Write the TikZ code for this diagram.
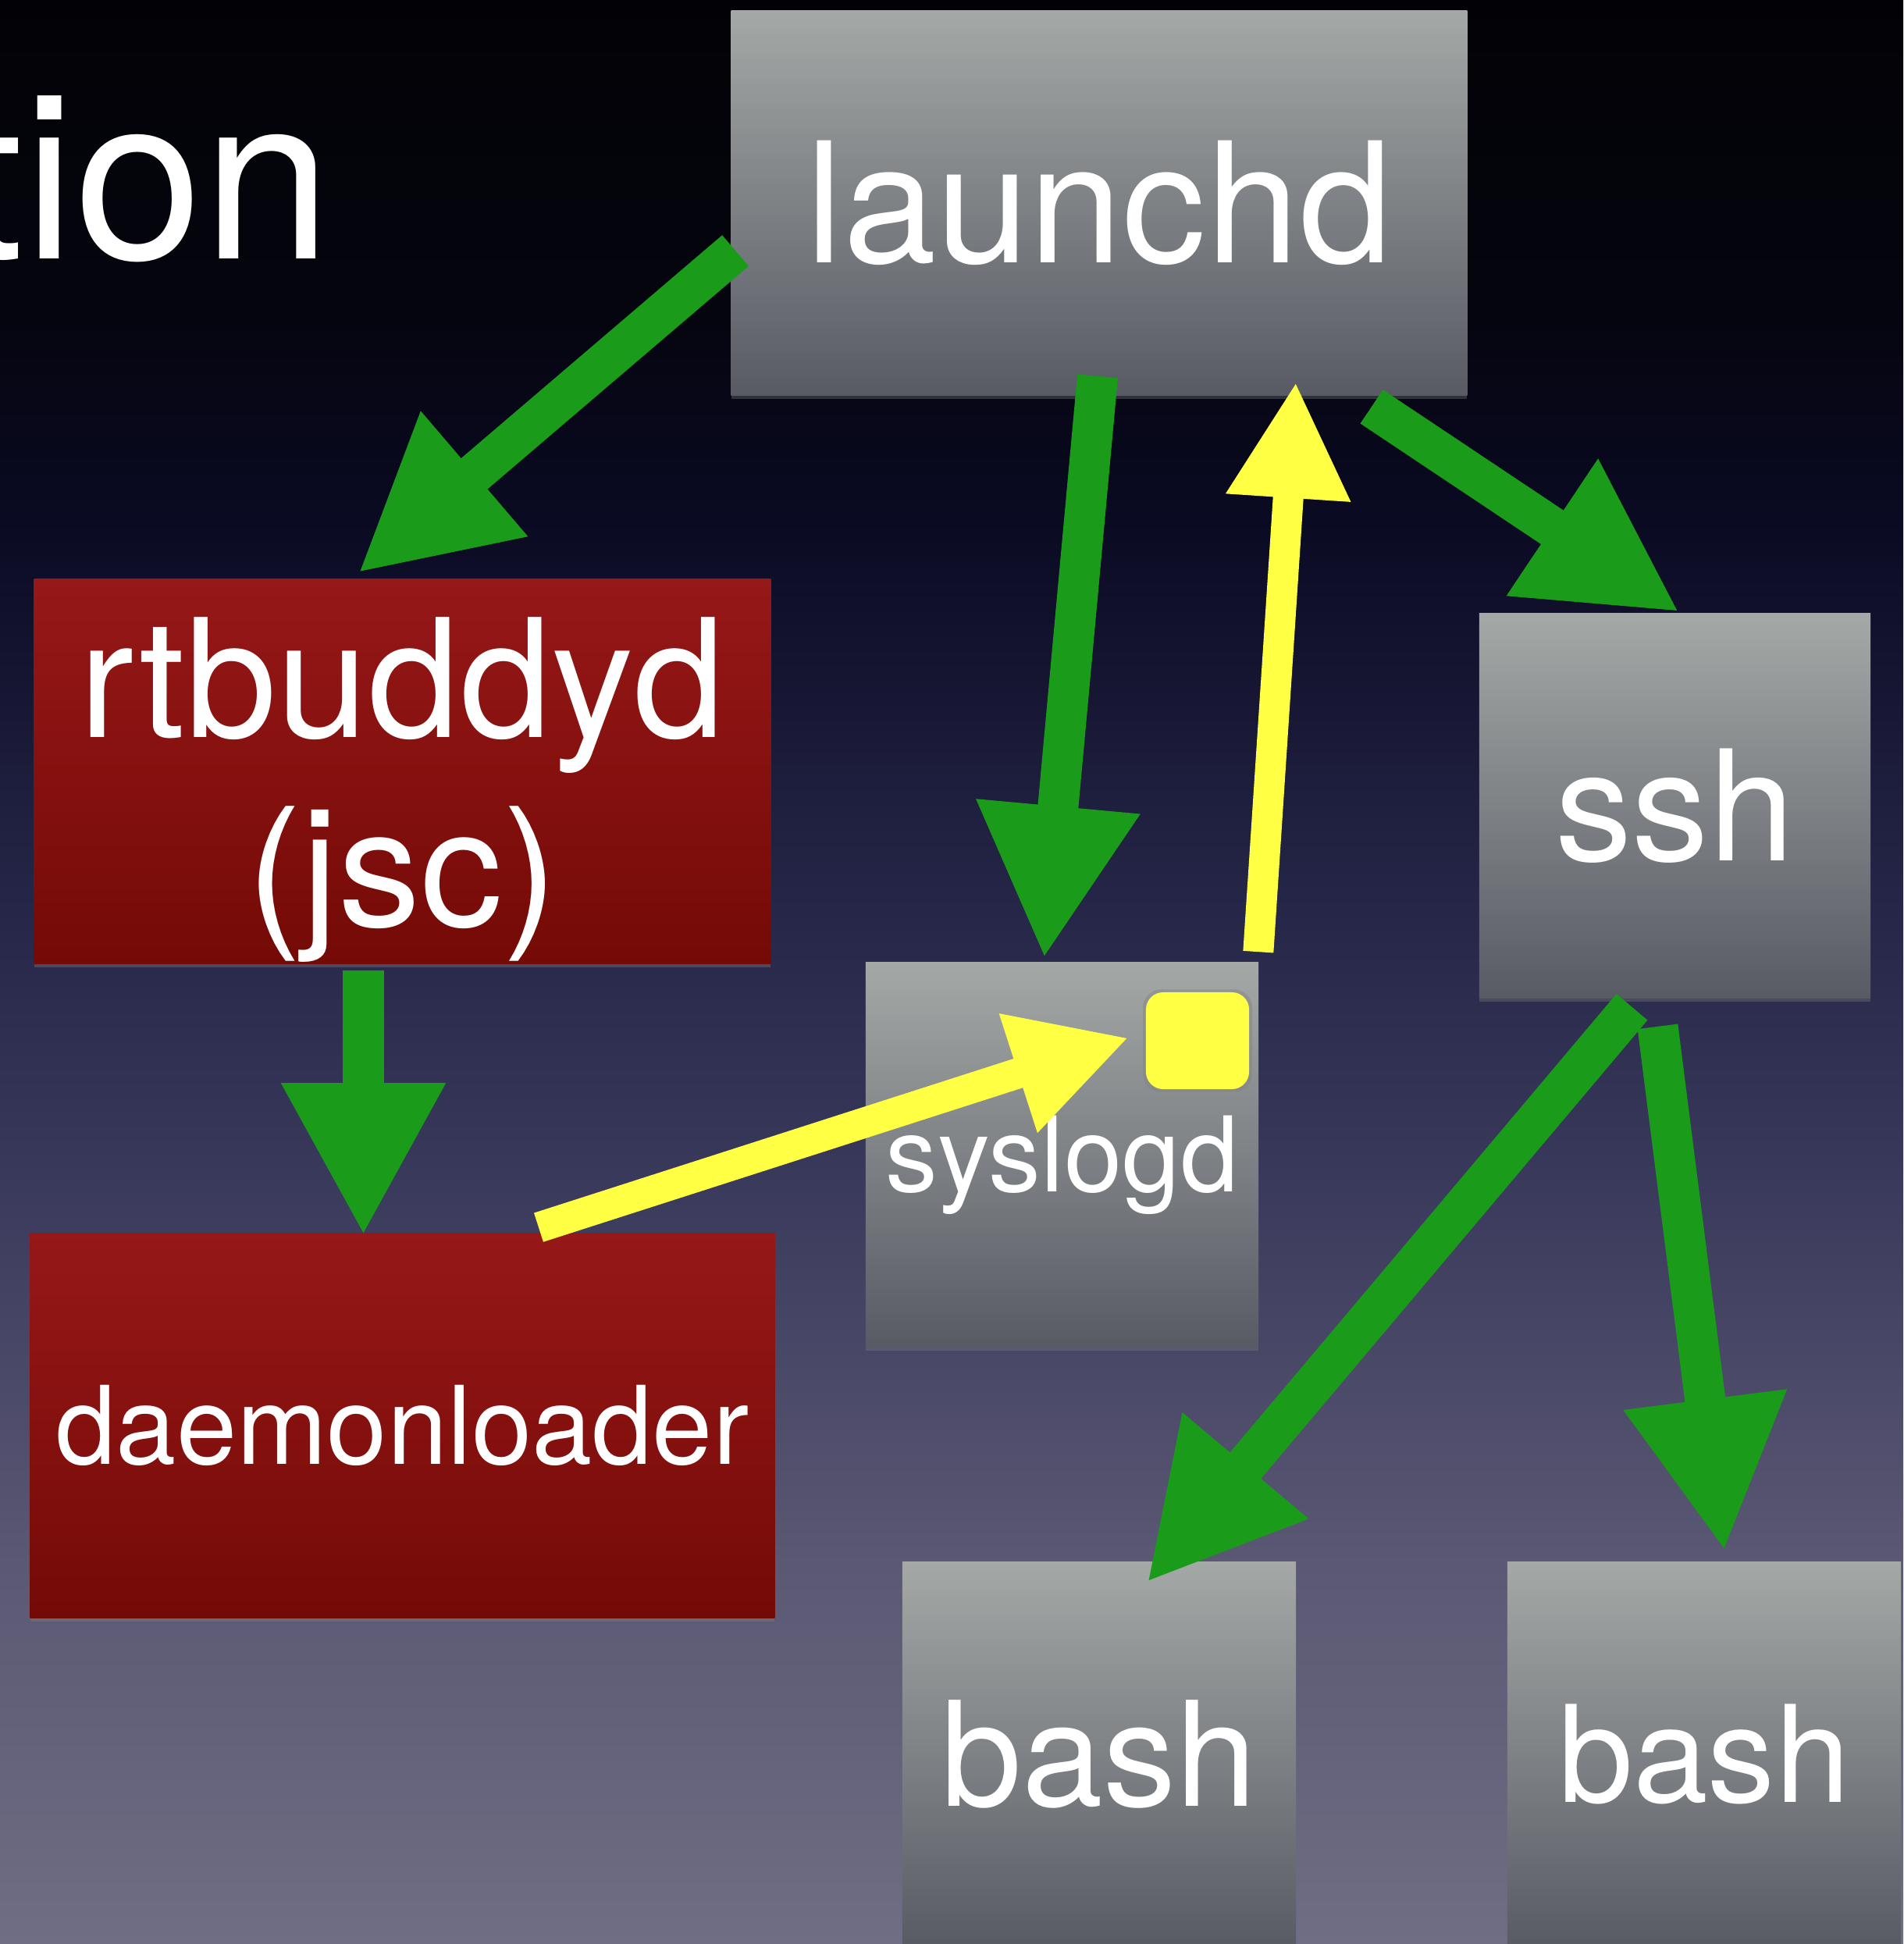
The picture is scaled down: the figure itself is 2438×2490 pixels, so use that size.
\documentclass[tikz,border=0pt]{standalone}
\usepackage{fontspec}
\setmainfont{TeX Gyre Heros}
\usetikzlibrary{arrows.meta,calc,shadows}

\definecolor{procgraytop}{RGB}{164,168,166}
\definecolor{procgraybot}{RGB}{88,91,100}
\definecolor{procredtop}{RGB}{150,24,24}
\definecolor{procredbot}{RGB}{116,10,6}
\definecolor{spawngreen}{RGB}{26,156,26}
\definecolor{logyellow}{RGB}{255,255,68}
\definecolor{bgA}{RGB}{112,110,132}
\definecolor{bgB}{RGB}{90,88,115}
\definecolor{bgC}{RGB}{55,55,90}
\definecolor{bgD}{RGB}{40,40,75}
\definecolor{bgE}{RGB}{25,25,55}
\definecolor{bgF}{RGB}{10,10,35}
\definecolor{bgG}{RGB}{5,5,15}
\definecolor{bgH}{RGB}{2,2,6}

% the path of a shade covers 25bp..75bp of the shading
\pgfdeclareverticalshading{slidebg}{100bp}{color(0bp)=(bgA); color(25bp)=(bgA); color(34.8bp)=(bgB);
    color(45.5bp)=(bgC); color(50.9bp)=(bgD); color(56.3bp)=(bgE); color(61.6bp)=(bgF);
    color(67bp)=(bgG); color(75bp)=(bgH); color(100bp)=(bgH)}

\tikzset{
        % Every process box
        procbox/.style={rectangle, inner sep=0pt, minimum height=4.92cm, text=white,
            drop shadow={opacity=0.35, shadow xshift=0pt, shadow yshift=-0.05cm}},
        % Ordinary processes
        proc_gray/.style={procbox, top color=procgraytop, bottom color=procgraybot},
        % Hijacked processes
        proc_red/.style={procbox, top color=procredtop, bottom color=procredbot},
        % Log socket
        node_socket/.style={rectangle, rounded corners=0.22cm, fill=logyellow, minimum width=1.32cm,
            minimum height=1.24cm, inner sep=0pt, drop shadow={opacity=0.4, shadow xshift=0pt, shadow yshift=0pt, shadow scale=1.06}},
        % Spawn arrows
        spawn/.style={draw=spawngreen, line width=0.52cm, -{Triangle[width=1.96cm,length=1.96cm]}},
        % Log arrows
        logmsg/.style={draw=logyellow, line width=0.39cm, -{Triangle[width=1.49cm,length=1.49cm]}}
}

\begin{document}
\begin{tikzpicture}[x=0.01cm, y=-0.01cm]
    \clip (0,0) rectangle (2438,2490);
    \shade[shading=slidebg] (0,0) rectangle (2438,2490);

    \node[anchor=base east, inner sep=0pt, text=white, font=\fontsize{84}{96}\selectfont] (title) at (425,331) {tion};

    \node[proc_gray, minimum width=9.42cm, font=\fontsize{61}{68.6}\selectfont] (launchd) at (1408,260) {launchd};
    \node[proc_red, minimum width=9.43cm, align=center, font=\fontsize{60}{68.6}\selectfont] (rtbuddyd) at (515.5,988)
        {\rule{0pt}{2.01cm}rtbuddyd\\(jsc)};
    \node[proc_red, minimum width=9.53cm, font=\fontsize{39.5}{45}\selectfont] (daemonloader) at (515.5,1826) {daemonloader};
    \node[proc_gray, minimum width=5.03cm, font=\fontsize{38}{44}\selectfont] (syslogd) at (1360.5,1479)
        {\rule{0pt}{1.25cm}syslogd};
    \node[proc_gray, minimum width=5.01cm, font=\fontsize{56}{64}\selectfont] (ssh) at (2145.5,1032) {ssh};
    \node[proc_gray, minimum width=5.04cm, font=\fontsize{53}{60}\selectfont] (bash1) at (1408,2247) {bash};
    \node[proc_gray, minimum width=5.04cm, font=\fontsize{49}{56}\selectfont] (bash2) at (2183,2247) {bash};
    \node[node_socket] (logsock) at (1534,1333) {};

    % launchd starts everything
    \draw[spawn] ($(launchd.west)+(6,61)$) -- ($(rtbuddyd.north)+(-57,-7)$);
    \draw[spawn] ($(launchd.south)+(-2,-25)$) -- ($(syslogd.north)+(-23,-4)$);
    \draw[spawn] ($(launchd.south)+(349,14)$) -- ($(ssh.north)+(6,-1)$);
    \draw[spawn] ($(rtbuddyd.south)+(-50,8)$) -- ($(daemonloader.north)+(-50,4)$);
    \draw[spawn] ($(ssh.south)+(-55,11)$) -- ($(bash1.north)+(61,27)$);
    \draw[spawn] ($(ssh.south)+(-22,36)$) -- ($(bash2.north)+(26,-13)$);

    % log traffic
    \draw[logmsg] ($(syslogd.north east)+(-1,-13)$) -- ($(launchd.south)+(252,-18)$);
    \draw[logmsg] ($(daemonloader.north)+(174.5,-7)$) -- ($(logsock.west)+(-21,-4)$);
\end{tikzpicture}
\end{document}
